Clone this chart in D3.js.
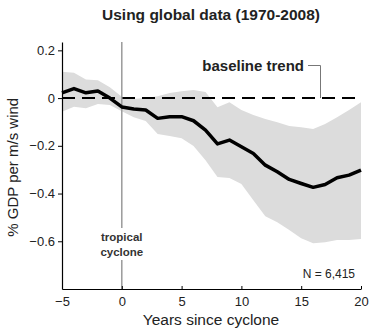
<!DOCTYPE html>
<html>
<head>
<meta charset="utf-8">
<script src="https://cdn.jsdelivr.net/npm/d3@7"></script>
<style>
  body { margin: 0; background: #fff; }
  text { font-family: "Liberation Sans", Arial, sans-serif; }
</style>
</head>
<body>
<div id="chart"></div>
<script>
// years since cyclone
const years = d3.range(-5, 21);
// mean effect (% GDP per m/s wind)
const meanVals = [0.022, 0.04, 0.022, 0.03, 0.0, -0.037, -0.046, -0.05, -0.085, -0.078, -0.078, -0.095, -0.134, -0.192,
  -0.176, -0.204, -0.232, -0.281, -0.309, -0.341, -0.358, -0.374, -0.362, -0.334, -0.323, -0.302];
// confidence band
const upperVals = [0.11, 0.106, 0.078, 0.075, 0.045, 0.006, -0.004, 0.0, 0.008, 0.021, 0.029, 0.034, 0.025, -0.038,
  -0.017, -0.05, -0.071, -0.088, -0.101, -0.117, -0.122, -0.13, -0.109, -0.08, -0.05, -0.017];
const lowerVals = [-0.057, -0.036, -0.043, -0.025, -0.029, -0.055, -0.08, -0.096, -0.151, -0.159, -0.168, -0.201, -0.26, -0.331,
  -0.335, -0.36, -0.428, -0.495, -0.52, -0.553, -0.587, -0.608, -0.604, -0.595, -0.595, -0.591];
const xTicks = [-5, 0, 5, 10, 15, 20];
const yTicks = [0.2, 0, -0.2, -0.4, -0.6];

const width = 371, height = 330;
const margin = { top: 42, right: 10, bottom: 41, left: 62 };

const svg = d3.select("#chart").append("svg")
  .attr("width", width)
  .attr("height", height);

const x = d3.scaleLinear().domain([-5, 20]).range([margin.left, width - margin.right]);
const y = d3.scaleLinear().domain([-0.8, 0.235]).range([height - margin.bottom, margin.top]);

const data = years.map((yr, i) => ({ yr, m: meanVals[i], lo: lowerVals[i], hi: upperVals[i] }));

// banda gris
svg.append("path")
  .datum(data)
  .attr("fill", "#dcdcdc")
  .attr("d", d3.area().x(d => x(d.yr)).y0(d => y(d.lo)).y1(d => y(d.hi)));

// linea base discontinua
svg.append("line")
  .attr("x1", x(-5)).attr("x2", x(20))
  .attr("y1", y(0)).attr("y2", y(0))
  .attr("stroke", "#000")
  .attr("stroke-width", 2)
  .attr("stroke-dasharray", "13,7");

// linea vertical del ciclon
svg.append("line")
  .attr("x1", x(0)).attr("x2", x(0))
  .attr("y1", margin.top).attr("y2", height - margin.bottom)
  .attr("stroke", "#9a9a9a")
  .attr("stroke-width", 1.5);

// linea media
svg.append("path")
  .datum(data)
  .attr("fill", "none")
  .attr("stroke", "#000")
  .attr("stroke-width", 3.5)
  .attr("stroke-linejoin", "round")
  .attr("d", d3.line().x(d => x(d.yr)).y(d => y(d.m)));

// ejes
const xAxis = svg.append("g")
  .attr("transform", `translate(0,${height - margin.bottom})`)
  .call(d3.axisBottom(x).tickValues(xTicks).tickSizeInner(-3).tickSizeOuter(0).tickPadding(8));
xAxis.selectAll("text").style("font-size", "13px").attr("fill", "#222");

const yAxis = svg.append("g")
  .attr("transform", `translate(${margin.left},0)`)
  .call(d3.axisLeft(y).tickValues(yTicks).tickFormat(d => d === 0 ? "0" : d3.format(".1f")(d)).tickSizeInner(4).tickSizeOuter(0).tickPadding(3));
yAxis.selectAll("text").style("font-size", "13px").attr("fill", "#222");
[xAxis, yAxis].forEach(a => {
  a.select(".domain").attr("stroke", "#000").attr("stroke-width", 1.2);
  a.selectAll(".tick line").attr("stroke", "#000");
});

// titulo
svg.append("text")
  .attr("x", 211).attr("y", 20)
  .attr("text-anchor", "middle")
  .style("font-size", "15.5px").style("font-weight", "bold")
  .attr("fill", "#222")
  .text("Using global data (1970-2008)");

svg.append("text")
  .attr("x", 211).attr("y", 325)
  .attr("text-anchor", "middle")
  .style("font-size", "15.5px")
  .attr("fill", "#222")
  .text("Years since cyclone");

svg.append("text")
  .attr("transform", `translate(18,${y(-0.29)}) rotate(-90)`)
  .attr("text-anchor", "middle")
  .style("font-size", "15px")
  .attr("fill", "#222")
  .text("% GDP per m/s wind");

// etiqueta baseline trend
svg.append("text")
  .attr("x", 304).attr("y", 71)
  .attr("text-anchor", "end")
  .style("font-size", "15px").style("font-weight", "bold")
  .attr("fill", "#222")
  .text("baseline trend");
svg.append("path")
  .attr("fill", "none")
  .attr("stroke", "#777")
  .attr("stroke-width", 1)
  .attr("d", `M308,65.5H320.5V${y(0)}`);

// etiqueta tropical cyclone
svg.append("rect")
  .attr("x", x(0) - 25).attr("y", 228)
  .attr("width", 50).attr("height", 32)
  .attr("fill", "#fff");
svg.append("text")
  .attr("x", x(0)).attr("y", 241)
  .attr("text-anchor", "middle")
  .style("font-size", "11.5px").style("font-weight", "bold")
  .attr("fill", "#333")
  .text("tropical");
svg.append("text")
  .attr("x", x(0)).attr("y", 256)
  .attr("text-anchor", "middle")
  .style("font-size", "11.5px").style("font-weight", "bold")
  .attr("fill", "#333")
  .text("cyclone");

svg.append("text")
  .attr("x", 355).attr("y", 278)
  .attr("text-anchor", "end")
  .style("font-size", "12px")
  .attr("fill", "#222")
  .text("N = 6,415");
</script>
</body>
</html>
